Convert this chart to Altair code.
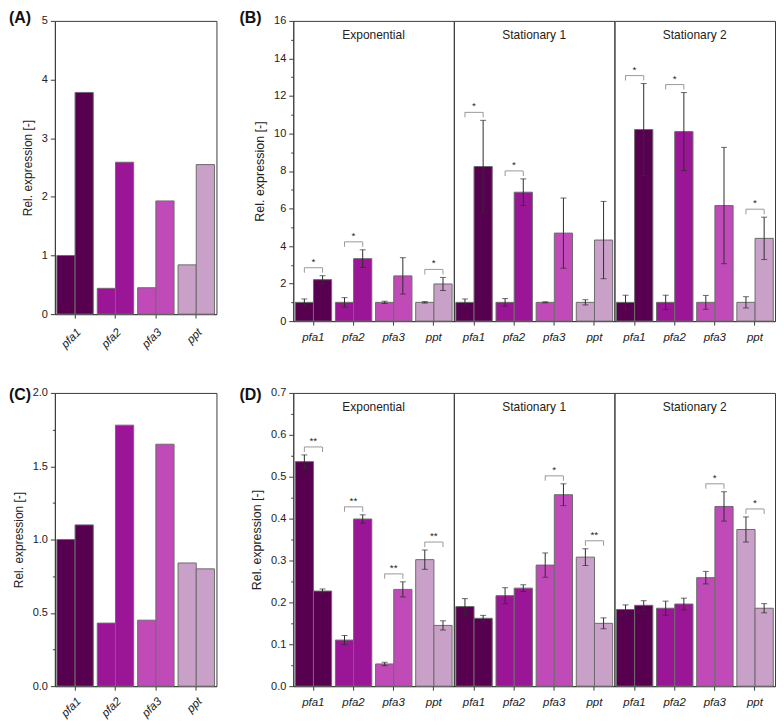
import altair as alt
import pandas as pd

GENES = ["pfa1", "pfa2", "pfa3", "ppt"]
GENE_COLORS = ["#57004f", "#9b1696", "#c04bb8", "#c9a1c8"]
CONDS = ["first", "second"]
PHASES = ["Exponential", "Stationary 1", "Stationary 2"]

# Panel A
A_FIRST = [1.00, 0.44, 0.45, 0.84]
A_SECOND = [3.78, 2.59, 1.93, 2.55]
# Panel C
C_FIRST = [1.00, 0.43, 0.45, 0.84]
C_SECOND = [1.10, 1.78, 1.65, 0.80]

# Panel B
B_EXP_FIRST = [1.00, 1.00, 1.00, 1.00]
B_EXP_FIRST_SD = [0.18, 0.25, 0.06, 0.04]
B_EXP_SECOND = [2.21, 3.33, 2.41, 1.98]
B_EXP_SECOND_SD = [0.21, 0.47, 0.97, 0.35]
B_EXP_SIG = ["*", "*", "", "*"]

B_ST1_FIRST = [1.00, 1.00, 1.00, 1.00]
B_ST1_FIRST_SD = [0.18, 0.20, 0.03, 0.14]
B_ST1_SECOND = [8.24, 6.87, 4.69, 4.32]
B_ST1_SECOND_SD = [2.46, 0.71, 1.87, 2.06]
B_ST1_SIG = ["*", "*", "", ""]

B_ST2_FIRST = [1.00, 1.00, 1.00, 1.00]
B_ST2_FIRST_SD = [0.38, 0.38, 0.37, 0.30]
B_ST2_SECOND = [10.21, 10.10, 6.16, 4.41]
B_ST2_SECOND_SD = [2.45, 2.08, 3.10, 1.13]
B_ST2_SIG = ["*", "*", "", "*"]

# Panel D
D_EXP_FIRST = [0.536, 0.110, 0.053, 0.302]
D_EXP_FIRST_SD = [0.016, 0.011, 0.004, 0.023]
D_EXP_SECOND = [0.227, 0.399, 0.231, 0.145]
D_EXP_SECOND_SD = [0.005, 0.010, 0.018, 0.011]
D_EXP_SIG = ["**", "**", "**", "**"]

D_ST1_FIRST = [0.190, 0.216, 0.289, 0.308]
D_ST1_FIRST_SD = [0.019, 0.019, 0.029, 0.020]
D_ST1_SECOND = [0.162, 0.234, 0.457, 0.150]
D_ST1_SECOND_SD = [0.007, 0.008, 0.026, 0.013]
D_ST1_SIG = ["", "", "*", "**"]

D_ST2_FIRST = [0.183, 0.186, 0.259, 0.374]
D_ST2_FIRST_SD = [0.011, 0.017, 0.015, 0.030]
D_ST2_SECOND = [0.193, 0.196, 0.429, 0.186]
D_ST2_SECOND_SD = [0.011, 0.014, 0.035, 0.011]
D_ST2_SIG = ["", "", "*", "*"]

A_TICKS = [0, 0.5, 1, 1.5, 2, 2.5, 3, 3.5, 4, 4.5, 5]
B_TICKS = list(range(0, 17))
C_TICKS = [0, 0.25, 0.5, 0.75, 1.0, 1.25, 1.5, 1.75, 2.0]
D_TICKS = [0, 0.05, 0.1, 0.15, 0.2, 0.25, 0.3, 0.35, 0.4, 0.45, 0.5, 0.55, 0.6, 0.65, 0.7]

FONT = "Liberation Sans"
FRAME = "#3c3c3c"
BAR_STROKE = "#6b6b6b"
ERR_COLOR = "#2e2e2e"
BRACKET_COLOR = "#6e6e6e"
TEXT_COLOR = "#222222"

SIMPLE_W, SEC_W = 162, 161
A_H, B_H, CD_H = 294, 301, 294


def make_table(first, second, first_sd=None, second_sd=None):
    rows = []
    for i, g in enumerate(GENES):
        for cond, vals, sds in (("first", first, first_sd), ("second", second, second_sd)):
            rows.append({"gene": g, "cond": cond, "value": vals[i],
                         "sd": sds[i] if sds else 0.0})
    df = pd.DataFrame(rows)
    df["lo"] = df["value"] - df["sd"]
    df["hi"] = df["value"] + df["sd"]
    return df


def sig_tables(df, sig):
    top = df.groupby("gene", sort=False)["hi"].max()
    s = pd.DataFrame({"gene": GENES, "sig": sig})
    s["top"] = [float(top[g]) for g in GENES]
    s = s[s["sig"] != ""].reset_index(drop=True)
    ends = s.merge(pd.DataFrame({"cond": CONDS}), how="cross")
    return s, ends


def x_enc(rotated, pad):
    if rotated:
        axis = alt.Axis(title=None, labelAngle=-45, labelAlign="right", labelBaseline="top",
                        labelFontStyle="italic", labelFontSize=11.5, labelPadding=pad, tickSize=4)
    else:
        axis = alt.Axis(title=None, labelAngle=0, labelFontStyle="italic",
                        labelFontSize=11.5, labelPadding=pad, tickSize=4)
    return alt.X("gene:N", sort=GENES, scale=alt.Scale(paddingInner=0, paddingOuter=0), axis=axis)


XOFF = alt.XOffset("cond:N", sort=CONDS, scale=alt.Scale(paddingInner=0, paddingOuter=0.11))
COLOR = alt.Color("gene:N", sort=GENES, scale=alt.Scale(domain=GENES, range=GENE_COLORS), legend=None)


def y_axis(values, step, fmt, title_size):
    test = f"abs(datum.value / {step} - round(datum.value / {step})) > 0.001"
    return alt.Axis(values=values, format=fmt, title="Rel. expression [-]",
                    titleFontSize=title_size, titleFontWeight="normal", titlePadding=7,
                    labelFontSize=11, labelPadding=3,
                    labelExpr=f"{test} ? '' : datum.label",
                    tickSize={"condition": {"test": test, "value": 2.5}, "value": 4.5},
                    grid=False)


def panel(df, sig, ymax, yaxis, width, height, rotated, pad, tag=None, tag_dx=0, tag_dy=0, phase=None):
    ys = alt.Scale(domain=[0, ymax], nice=False, zero=True)
    x = x_enc(rotated, pad)
    base = alt.Chart(df)
    layers = [
        base.mark_bar(stroke=BAR_STROKE, strokeWidth=1).encode(
            x=x, xOffset=XOFF,
            y=alt.Y("value:Q", scale=ys, axis=yaxis),
            color=COLOR,
        )
    ]
    if df["sd"].max() > 0:
        err = base.transform_filter("datum.sd > 0")
        layers.append(err.mark_rule(color=ERR_COLOR, strokeWidth=1).encode(
            x=x, xOffset=XOFF, y=alt.Y("lo:Q", scale=ys, axis=yaxis), y2="hi:Q"))
        layers.append(err.mark_tick(orient="horizontal", size=6, thickness=1, color=ERR_COLOR).encode(
            x=x, xOffset=XOFF, y=alt.Y("hi:Q", scale=ys, axis=yaxis)))
        layers.append(err.mark_tick(orient="horizontal", size=6, thickness=1, color=ERR_COLOR).encode(
            x=x, xOffset=XOFF, y=alt.Y("lo:Q", scale=ys, axis=yaxis)))
    if sig and any(sig):
        s, ends = sig_tables(df, sig)
        layers.append(alt.Chart(s).mark_tick(orient="horizontal", size=18, thickness=1,
                                             color=BRACKET_COLOR, yOffset=-8).encode(
            x=x, y=alt.Y("top:Q", scale=ys, axis=yaxis)))
        layers.append(alt.Chart(ends).mark_tick(orient="vertical", size=5, thickness=1,
                                                color=BRACKET_COLOR, yOffset=-5.5).encode(
            x=x, xOffset=XOFF, y=alt.Y("top:Q", scale=ys, axis=yaxis)))
        layers.append(alt.Chart(s).mark_text(font=FONT, fontSize=10, color=TEXT_COLOR,
                                             baseline="alphabetic", dy=-11).encode(
            x=x, y=alt.Y("top:Q", scale=ys, axis=yaxis), text="sig:N"))
    if phase:
        layers.append(alt.Chart(pd.DataFrame({"t": [phase]})).mark_text(
            font=FONT, fontSize=12, color=TEXT_COLOR, baseline="middle", align="center").encode(
            text="t:N", x=alt.value(width / 2), y=alt.value(14)))
    if tag:
        layers.append(alt.Chart(pd.DataFrame({"t": [tag]})).mark_text(
            font=FONT, fontSize=16, fontWeight="bold", align="left", baseline="top", color="#111111").encode(
            text="t:N", x=alt.value(tag_dx), y=alt.value(tag_dy)))
    return alt.layer(*layers).properties(width=width, height=height)


def section_row(tables, sigs, ymax, yaxis, height, tag, tag_dy):
    charts = []
    for k, (df, sig, phase) in enumerate(zip(tables, sigs, PHASES)):
        charts.append(panel(df, sig, ymax, yaxis if k == 0 else None, SEC_W, height, False, 6,
                            tag=tag if k == 0 else None, tag_dx=-54, tag_dy=tag_dy, phase=phase))
    return alt.hconcat(*charts, spacing=0, bounds="flush")


a_df = make_table(A_FIRST, A_SECOND)
c_df = make_table(C_FIRST, C_SECOND)
b_tables = [
    make_table(B_EXP_FIRST, B_EXP_SECOND, B_EXP_FIRST_SD, B_EXP_SECOND_SD),
    make_table(B_ST1_FIRST, B_ST1_SECOND, B_ST1_FIRST_SD, B_ST1_SECOND_SD),
    make_table(B_ST2_FIRST, B_ST2_SECOND, B_ST2_FIRST_SD, B_ST2_SECOND_SD),
]
d_tables = [
    make_table(D_EXP_FIRST, D_EXP_SECOND, D_EXP_FIRST_SD, D_EXP_SECOND_SD),
    make_table(D_ST1_FIRST, D_ST1_SECOND, D_ST1_FIRST_SD, D_ST1_SECOND_SD),
    make_table(D_ST2_FIRST, D_ST2_SECOND, D_ST2_FIRST_SD, D_ST2_SECOND_SD),
]

panel_a = panel(a_df, None, 5, y_axis(A_TICKS, 1, "d", 12), SIMPLE_W, A_H, True, 8,
                tag="(A)", tag_dx=-46, tag_dy=-11)
panel_c = panel(c_df, None, 2, y_axis(C_TICKS, 0.5, ".1f", 12), SIMPLE_W, CD_H, True, 5,
                tag="(C)", tag_dx=-46, tag_dy=-6)
panel_b = section_row(b_tables, [B_EXP_SIG, B_ST1_SIG, B_ST2_SIG], 16,
                      y_axis(B_TICKS, 2, "d", 12.5), B_H, "(B)", -11)
panel_d = section_row(d_tables, [D_EXP_SIG, D_ST1_SIG, D_ST2_SIG], 0.7,
                      y_axis(D_TICKS, 0.1, ".1f", 12.5), CD_H, "(D)", -6)

top = alt.hconcat(panel_a, panel_b, spacing=21)
bottom = alt.hconcat(panel_c, panel_d, spacing=21)

chart = alt.vconcat(top, bottom, spacing=35).properties(
    padding={"left": 0, "top": 0, "right": 0, "bottom": 0}
).configure_view(
    stroke=FRAME, strokeWidth=1
).configure_axis(
    domainColor=FRAME, tickColor=FRAME, labelColor=TEXT_COLOR, titleColor=TEXT_COLOR,
    labelFont=FONT, titleFont=FONT, domainWidth=1, tickWidth=1
)

chart.save("out.html", embed_options={"renderer": "svg", "actions": False})
